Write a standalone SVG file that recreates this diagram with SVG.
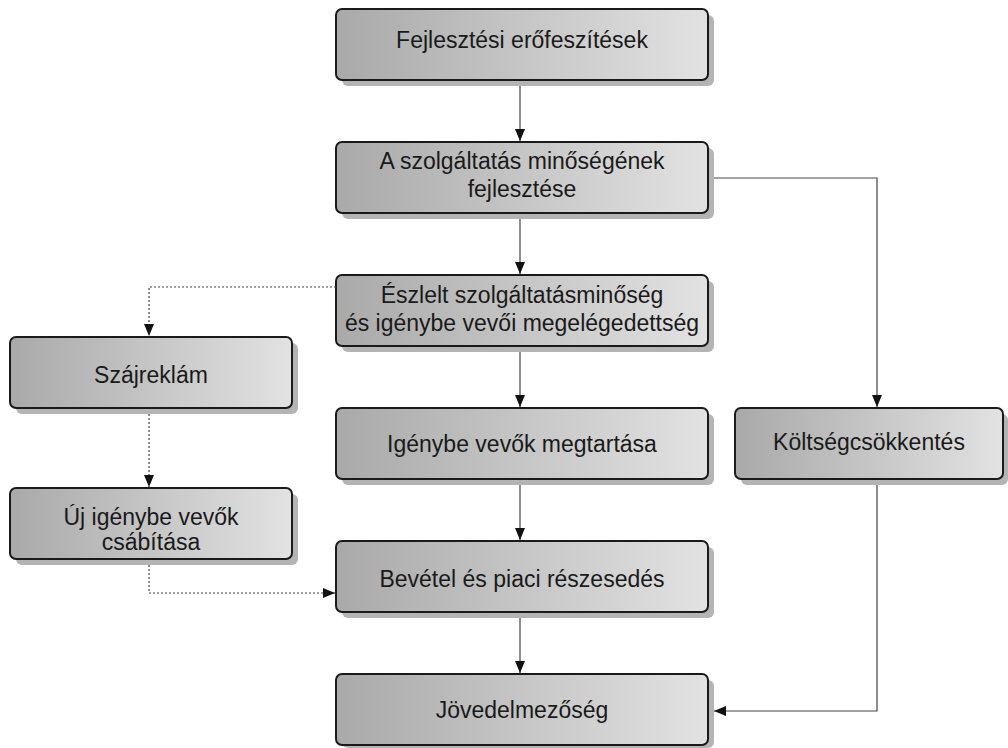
<svg xmlns="http://www.w3.org/2000/svg" width="1008" height="748" viewBox="0 0 1008 748">
<defs>
<linearGradient id="g" x1="0" y1="0" x2="1" y2="0">
<stop offset="0" stop-color="#a9a9a9"/>
<stop offset="1" stop-color="#e2e2e2"/>
</linearGradient>
<marker id="ah" viewBox="0 0 12 10" refX="12" refY="5" markerWidth="12" markerHeight="10" markerUnits="userSpaceOnUse" orient="auto">
<path d="M0,0 L12,5 L0,10 z" fill="#111"/>
</marker>
</defs>
<style>
.sh{fill:#b4b4b4}
.bx{fill:url(#g);stroke:#1a1a1a;stroke-width:2}
.t{font-family:"Liberation Sans",Arial,sans-serif;font-size:23px;fill:#1a1a1a;text-anchor:middle}
.c{fill:none;stroke:#444;stroke-width:1.2}
.d{fill:none;stroke:#444;stroke-width:1.2;stroke-dasharray:2,2}
</style>
<g id="n1">
<rect class="sh" x="342" y="15" width="372" height="71" rx="6"/>
<rect class="bx" x="336" y="9" width="372" height="71" rx="6"/>
<text class="t" x="522" y="48">Fejlesztési erőfeszítések</text>
</g>
<g id="n2">
<rect class="sh" x="342" y="148" width="372" height="71" rx="6"/>
<rect class="bx" x="336" y="142" width="372" height="71" rx="6"/>
<text class="t" x="522" y="169">A szolgáltatás minőségének</text>
<text class="t" x="522" y="197">fejlesztése</text>
</g>
<g id="n3">
<rect class="sh" x="342" y="281" width="372" height="71" rx="6"/>
<rect class="bx" x="336" y="275" width="372" height="71" rx="6"/>
<text class="t" x="522" y="303">Észlelt szolgáltatásminőség</text>
<text class="t" x="522" y="331">és igénybe vevői megelégedettség</text>
</g>
<g id="n4">
<rect class="sh" x="342" y="414" width="372" height="71" rx="6"/>
<rect class="bx" x="336" y="408" width="372" height="71" rx="6"/>
<text class="t" x="522" y="452">Igénybe vevők megtartása</text>
</g>
<g id="n5">
<rect class="sh" x="342" y="547" width="372" height="71" rx="6"/>
<rect class="bx" x="336" y="541" width="372" height="71" rx="6"/>
<text class="t" x="522" y="587">Bevétel és piaci részesedés</text>
</g>
<g id="n6">
<rect class="sh" x="342" y="680" width="372" height="68" rx="6"/>
<rect class="bx" x="336" y="674" width="372" height="71" rx="6"/>
<text class="t" x="522" y="718">Jövedelmezőség</text>
</g>
<g id="n7">
<rect class="sh" x="16" y="343" width="282" height="71" rx="6"/>
<rect class="bx" x="10" y="337" width="282" height="71" rx="6"/>
<text class="t" x="151" y="383">Szájreklám</text>
</g>
<g id="n8">
<rect class="sh" x="16" y="494" width="282" height="71" rx="6"/>
<rect class="bx" x="10" y="488" width="282" height="71" rx="6"/>
<text class="t" x="151" y="525">Új igénybe vevők</text>
<text class="t" x="151" y="550">csábítása</text>
</g>
<g id="n9">
<rect class="sh" x="741" y="414" width="267" height="71" rx="6"/>
<rect class="bx" x="735" y="408" width="268" height="71" rx="6"/>
<text class="t" x="869" y="450">Költségcsökkentés</text>
</g>
<g id="connectors">
<path class="c" d="M520,86 V141" marker-end="url(#ah)"/>
<path class="c" d="M520,219 V274" marker-end="url(#ah)"/>
<path class="c" d="M520,352 V407" marker-end="url(#ah)"/>
<path class="c" d="M520,485 V540" marker-end="url(#ah)"/>
<path class="c" d="M520,618 V673" marker-end="url(#ah)"/>
<path class="c" d="M714,178 H877 V407" marker-end="url(#ah)"/>
<path class="c" d="M877,485 V711 H714" marker-end="url(#ah)"/>
<path class="d" d="M336,287 H149 V336" marker-end="url(#ah)"/>
<path class="d" d="M149,414 V487" marker-end="url(#ah)"/>
<path class="d" d="M149,565 V593 H335" marker-end="url(#ah)"/>
</g>
</svg>
